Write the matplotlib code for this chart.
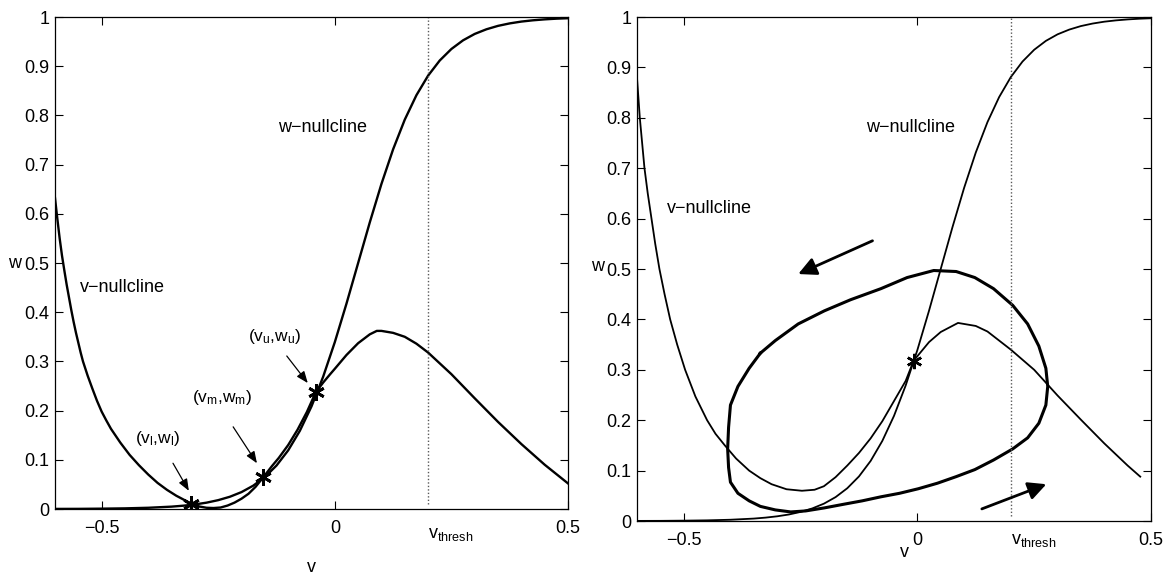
import numpy as np
import matplotlib
matplotlib.use('Agg')
import matplotlib.pyplot as plt

plt.rcParams['font.family'] = ['Liberation Sans', 'DejaVu Sans']
plt.rcParams['mathtext.fontset'] = 'custom'
plt.rcParams['mathtext.rm'] = 'Liberation Sans'
plt.rcParams['mathtext.it'] = 'Liberation Sans'
plt.rcParams['axes.unicode_minus'] = True

FS = 13

# --- NULLCLINE / TRAJECTORY DATA ---

# w-nullcline (same in both panels)
v_wnull = [-0.6, -0.55, -0.5, -0.45, -0.4, -0.35, -0.325, -0.3, -0.275, -0.25, -0.225, -0.2, -0.175, -0.15,
           -0.125, -0.1, -0.075, -0.05, -0.025, 0.0, 0.025, 0.05, 0.075, 0.1, 0.125, 0.15,
           0.175, 0.2, 0.225, 0.25, 0.275, 0.3, 0.325, 0.35, 0.375, 0.4, 0.425, 0.45, 0.475, 0.5]
w_wnull = [0.0002, 0.0003, 0.0007, 0.0013, 0.0025, 0.0048, 0.0067, 0.0093, 0.0129, 0.018, 0.0249, 0.0344,
           0.0474, 0.065, 0.0884, 0.1192, 0.1589, 0.2086, 0.2689, 0.3392, 0.4174, 0.5, 0.5826, 0.6608,
           0.7311, 0.7914, 0.8411, 0.8808, 0.9116, 0.935, 0.9526, 0.9656, 0.975, 0.982, 0.987, 0.9907,
           0.9933, 0.9952, 0.9966, 0.9975]

# v-nullcline, three fixed points
v_vnull_a = [-0.6, -0.595, -0.59, -0.585, -0.58, -0.575, -0.57, -0.565, -0.56, -0.555, -0.55, -0.545,
             -0.54, -0.53, -0.52, -0.51, -0.5, -0.49, -0.48, -0.46, -0.44,
             -0.42, -0.4, -0.38, -0.36, -0.34, -0.32, -0.305, -0.29, -0.275, -0.26, -0.245, -0.23,
             -0.215, -0.2, -0.185, -0.17, -0.153, -0.135, -0.12, -0.1, -0.08, -0.06, -0.041, -0.025,
             -0.01, 0.0, 0.025, 0.05, 0.075, 0.09, 0.1, 0.125, 0.15, 0.175, 0.2, 0.25, 0.3, 0.35,
             0.4, 0.45, 0.5]
w_vnull_a = [0.632, 0.59, 0.55, 0.515, 0.485, 0.456, 0.43, 0.404, 0.38, 0.358, 0.338, 0.318,
             0.3, 0.271, 0.245, 0.22, 0.198, 0.18, 0.163, 0.135, 0.11,
             0.089, 0.07, 0.053, 0.039, 0.027, 0.017, 0.0095, 0.005, 0.0025, 0.002, 0.003, 0.007,
             0.013, 0.021, 0.031, 0.045, 0.065, 0.087, 0.104, 0.13, 0.161, 0.197, 0.237, 0.257,
             0.274, 0.285, 0.313, 0.337, 0.355, 0.362, 0.362, 0.358, 0.35, 0.336, 0.318, 0.274, 0.225, 0.177,
             0.132, 0.09, 0.052]

# v-nullcline, single unstable fixed point
v_vnull_b = [-0.6, -0.597, -0.594, -0.589, -0.584, -0.577, -0.569, -0.561, -0.552, -0.541, -0.529, -0.514,
             -0.497, -0.475, -0.45, -0.432, -0.412, -0.388, -0.36, -0.336, -0.312, -0.28, -0.247, -0.22,
             -0.2, -0.175, -0.15, -0.125, -0.1, -0.075, -0.05, -0.025, -0.008, 0.025, 0.05, 0.087, 0.125,
             0.15, 0.2, 0.25, 0.3, 0.35, 0.4, 0.45, 0.477]
w_vnull_b = [0.879, 0.84, 0.8, 0.75, 0.7, 0.65, 0.6, 0.55, 0.5, 0.45, 0.4, 0.35,
             0.3, 0.247, 0.2, 0.173, 0.15, 0.124, 0.1, 0.085, 0.073, 0.063, 0.06, 0.062,
             0.069, 0.087, 0.11, 0.135, 0.164, 0.198, 0.238, 0.278, 0.318, 0.355, 0.375, 0.393, 0.387,
             0.376, 0.34, 0.30, 0.249, 0.201, 0.154, 0.11, 0.088]

# limit cycle (counter-clockwise)
v_cycle = [-0.336, -0.304, -0.255, -0.199, -0.143, -0.078, -0.022, 0.035, 0.083, 0.123, 0.163, 0.204,
           0.236, 0.260, 0.275, 0.279, 0.275, 0.260, 0.236, 0.204, 0.163, 0.123, 0.083, 0.043,
           0.002, -0.038, -0.078, -0.118, -0.159, -0.199, -0.239, -0.271, -0.304, -0.336, -0.360,
           -0.384, -0.400, -0.404, -0.406, -0.404, -0.400, -0.384, -0.360, -0.336]
w_cycle = [0.333, 0.358, 0.391, 0.417, 0.439, 0.461, 0.483, 0.497, 0.495, 0.483, 0.461, 0.428,
           0.391, 0.347, 0.303, 0.267, 0.230, 0.194, 0.165, 0.143, 0.121, 0.102, 0.088, 0.075,
           0.064, 0.055, 0.048, 0.040, 0.033, 0.026, 0.020, 0.018, 0.022, 0.029, 0.040,
           0.055, 0.077, 0.106, 0.143, 0.186, 0.230, 0.267, 0.303, 0.333]

# fixed points
fp_v_a = [-0.309, -0.153, -0.041]
fp_w_a = [0.011, 0.065, 0.237]
fp_labels_a = [r'$\mathregular{(v_l{,}w_l)}$', r'$\mathregular{(v_m{,}w_m)}$', r'$\mathregular{(v_u{,}w_u)}$']
fp_text_a = [(-0.381, 0.144), (-0.242, 0.226), (-0.128, 0.35)]
fp_arrow_a = [((-0.347, 0.093), (-0.313, 0.037)),
              ((-0.218, 0.167), (-0.167, 0.093)),
              ((-0.103, 0.311), (-0.058, 0.256))]
fp_v_b = [-0.008]
fp_w_b = [0.318]

# direction arrows along the cycle
flow_arrows = [((-0.096, 0.556), (-0.255, 0.490)),
               ((0.138, 0.024), (0.276, 0.073))]

v_thresh = 0.2
xticks = [-0.5, 0, 0.5]
yticks = np.round(np.arange(0, 1.01, 0.1), 1)
ytick_labels = ['0'] + [f'{t:g}' for t in yticks[1:-1]] + ['1']

STAR = (6, 2, 0)


def style_axes(ax):
    ax.set_xlim(-0.6, 0.5)
    ax.set_ylim(0, 1)
    ax.set_xticks(xticks)
    ax.set_xticklabels(['\u22120.5', '0', '0.5'])
    ax.set_yticks(yticks)
    ax.set_yticklabels(ytick_labels)
    ax.tick_params(direction='in', length=6, width=0.8, top=True, right=True, labelsize=FS)
    ax.tick_params(axis='x', pad=8)
    ax.tick_params(axis='y', pad=4)
    for sp in ax.spines.values():
        sp.set_linewidth(0.9)


def add_labels(ax, thresh_y, xlabel_y, ylabel_y, ylabel_x, xlabel_x):
    ax.axvline(v_thresh, ymin=0.01, ymax=1, color='0.35', ls=(0, (1, 1.5)), lw=1.0)
    ax.text(v_thresh, thresh_y, r'$\mathregular{v_{thresh}}$', transform=ax.get_xaxis_transform(),
            ha='left', va='baseline', fontsize=FS)
    ax.text(xlabel_x, xlabel_y, 'v', transform=ax.transAxes, ha='center', va='baseline', fontsize=FS)
    ax.text(ylabel_x, ylabel_y, 'w', transform=ax.transAxes, ha='center', va='baseline', fontsize=FS)


fig = plt.figure(figsize=(11.7, 5.77), dpi=100)
ax1 = fig.add_axes([55 / 1170, 68 / 577, 513 / 1170, 492 / 577])
ax2 = fig.add_axes([637 / 1170, 56 / 577, 514 / 1170, 504 / 577])

# --- LEFT: three fixed points ---
style_axes(ax1)
ax1.plot(v_wnull, w_wnull, color='k', lw=1.7)
ax1.plot(v_vnull_a, w_vnull_a, color='k', lw=1.7)
ax1.plot(fp_v_a, fp_w_a, ls='none', marker=STAR, ms=12, mew=2, color='k')
for lab, (tx, ty), (a0, a1) in zip(fp_labels_a, fp_text_a, fp_arrow_a):
    ax1.text(tx, ty, lab, ha='center', va='center', fontsize=12.5)
    ax1.annotate('', xy=a1, xytext=a0,
                 arrowprops=dict(arrowstyle='-|>,head_length=0.5,head_width=0.2', lw=0.9, color='k',
                                 shrinkA=0, shrinkB=0, mutation_scale=14))
ax1.text(-0.0254, 0.767, 'w\u2212nullcline', ha='center', va='baseline', fontsize=FS)
ax1.text(-0.456, 0.442, 'v\u2212nullcline', ha='center', va='baseline', fontsize=FS)
add_labels(ax1, -0.058, -0.128, 0.49, -0.078, 0.499)

# --- RIGHT: limit cycle ---
style_axes(ax2)
ax2.plot(v_wnull, w_wnull, color='k', lw=1.3)
ax2.plot(v_vnull_b, w_vnull_b, color='k', lw=1.3)
ax2.plot(v_cycle, w_cycle, color='k', lw=2.2)
ax2.plot(fp_v_b, fp_w_b, ls='none', marker=STAR, ms=11, mew=1.8, color='k')
for a0, a1 in flow_arrows:
    ax2.annotate('', xy=a1, xytext=a0,
                 arrowprops=dict(arrowstyle='-|>,head_length=0.6,head_width=0.3', lw=2, color='k',
                                 shrinkA=0, shrinkB=0, mutation_scale=18))
ax2.text(-0.0137, 0.772, 'w\u2212nullcline', ha='center', va='baseline', fontsize=FS)
ax2.text(-0.445, 0.611, 'v\u2212nullcline', ha='center', va='baseline', fontsize=FS)
add_labels(ax2, -0.046, -0.072, 0.497, -0.076, 0.52)

fig.savefig('out.png', dpi=100)
plt.close(fig)
